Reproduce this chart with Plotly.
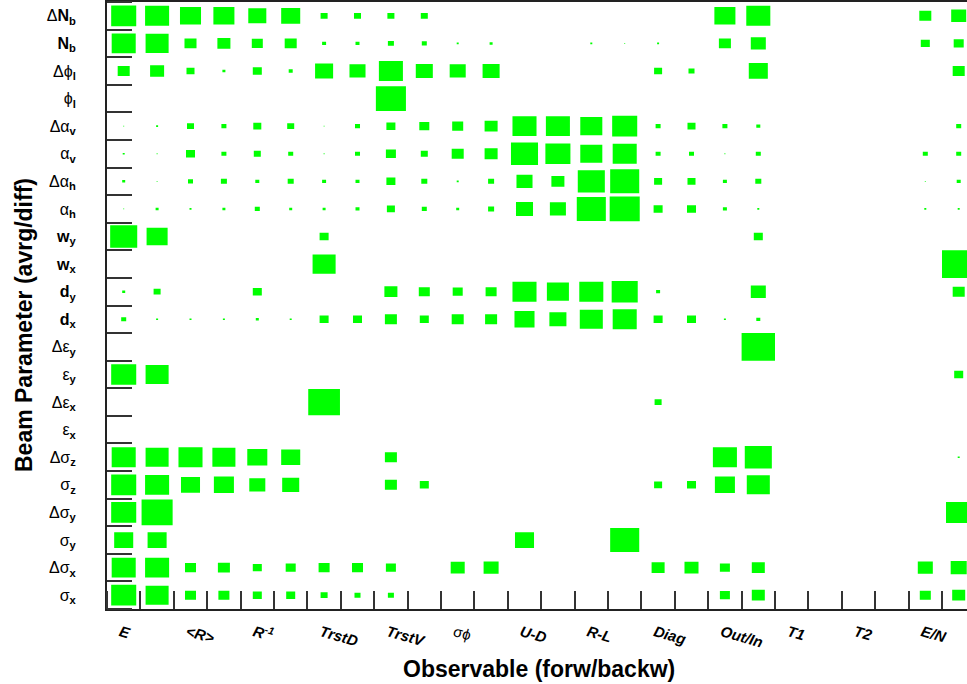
import plotly.graph_objects as go

# Beam parameters (rows, top to bottom)
param_labels = [
    "Δ<b>N<sub>b</sub></b>", "<b>N<sub>b</sub></b>",
    "Δϕ<sub><b>l</b></sub>", "ϕ<sub><b>l</b></sub>",
    "Δα<sub><b>v</b></sub>", "α<sub><b>v</b></sub>",
    "Δα<sub><b>h</b></sub>", "α<sub><b>h</b></sub>",
    "<b>w<sub>y</sub></b>", "<b>w<sub>x</sub></b>",
    "<b>d<sub>y</sub></b>", "<b>d<sub>x</sub></b>",
    "Δε<sub><b>y</b></sub>", "ε<sub><b>y</b></sub>",
    "Δε<sub><b>x</b></sub>", "ε<sub><b>x</b></sub>",
    "Δσ<sub><b>z</b></sub>", "σ<sub><b>z</b></sub>",
    "Δσ<sub><b>y</b></sub>", "σ<sub><b>y</b></sub>",
    "Δσ<sub><b>x</b></sub>", "σ<sub><b>x</b></sub>",
]

# Observables (each has a forward and backward column)
obs_labels = [
    "<b><i>E</i></b>", "<b><i>&lt;R&gt;</i></b>", "<b><i>R<sup>-1</sup></i></b>",
    "<b><i>TrstD</i></b>", "<b><i>TrstV</i></b>", "σϕ",
    "<b><i>U-D</i></b>", "<b><i>R-L</i></b>", "<b><i>Diag</i></b>",
    "<b><i>Out/In</i></b>", "<b><i>T1</i></b>", "<b><i>T2</i></b>", "<b><i>E/N</i></b>",
]

# Relative box sizes, 26 columns per row (E f/b, <R> f/b, ..., E/N f/b)
dNb = [.75, .72, .63, .63, .54, .57, .21, .21, .21, .21, 0, 0, 0, 0, 0, 0, 0, 0, .63, .72, 0, 0, 0, 0, .36, .45]
Nb = [.72, .69, .36, .39, .33, .36, .12, .12, .18, .15, .06, .09, 0, 0, .06, .03, .06, 0, .36, .45, 0, 0, 0, 0, .27, .30]
dphi = [.36, .42, .24, .09, .27, .12, .54, .48, .72, .51, .48, .51, 0, 0, 0, 0, .24, .18, 0, .57, 0, 0, 0, 0, 0, .36]
phi = [0, 0, 0, 0, 0, 0, 0, 0, .90, 0, 0, 0, 0, 0, 0, 0, 0, 0, 0, 0, 0, 0, 0, 0, 0, 0]
dav = [.03, .06, .21, .15, .24, .21, .03, .15, .27, .30, .33, .39, .72, .72, .66, .75, .15, .24, .15, .12, 0, 0, 0, 0, 0, .15]
av = [.06, .03, .27, .15, .21, .15, .03, .15, .30, .21, .36, .39, .81, .75, .66, .72, .15, .15, .03, .15, 0, 0, 0, 0, .15, .15]
dah = [.09, .03, .15, .18, .12, .18, .12, .12, .27, .18, .06, .18, .48, .39, .81, .87, .24, .24, .12, .18, 0, 0, 0, 0, .03, .12]
ah = [.03, .09, .06, .09, .15, .09, .09, .12, .24, .15, .09, .18, .51, .48, .87, .90, .27, .27, .12, .06, 0, 0, 0, 0, .06, .06]
wy = [.81, .63, 0, 0, 0, 0, .27, 0, 0, 0, 0, 0, 0, 0, 0, 0, 0, 0, 0, .27, 0, 0, 0, 0, 0, 0]
wx = [0, 0, 0, 0, 0, 0, .69, 0, 0, 0, 0, 0, 0, 0, 0, 0, 0, 0, 0, 0, 0, 0, 0, 0, 0, 1.0]
dy = [.09, .21, 0, 0, .27, 0, 0, 0, .39, .33, .30, .33, .72, .66, .72, .78, .12, 0, 0, .45, 0, 0, 0, 0, 0, .36]
dx = [.15, .06, .06, .06, .09, .06, .27, .27, .36, .27, .36, .36, .60, .51, .69, .72, .27, .27, .06, .12, 0, 0, 0, 0, 0, 0]
dey = [0, 0, 0, 0, 0, 0, 0, 0, 0, 0, 0, 0, 0, 0, 0, 0, 0, 0, 0, 1.0, 0, 0, 0, 0, 0, 0]
ey = [.75, .69, 0, 0, 0, 0, 0, 0, 0, 0, 0, 0, 0, 0, 0, 0, 0, 0, 0, 0, 0, 0, 0, 0, 0, .27]
dex = [0, 0, 0, 0, 0, 0, .95, 0, 0, 0, 0, 0, 0, 0, 0, 0, .21, 0, 0, 0, 0, 0, 0, 0, 0, 0]
ex = [0] * 26
dsz = [.72, .69, .72, .69, .60, .57, 0, 0, .36, 0, 0, 0, 0, 0, 0, 0, 0, 0, .72, .81, 0, 0, 0, 0, 0, .06]
sz = [.75, .72, .57, .60, .48, .51, 0, 0, .36, .27, 0, 0, 0, 0, 0, 0, .24, .27, .60, .69, 0, 0, 0, 0, 0, 0]
dsy = [.75, .93, 0, 0, 0, 0, 0, 0, 0, 0, 0, 0, 0, 0, 0, 0, 0, 0, 0, 0, 0, 0, 0, 0, 0, .76]
sy = [.57, .57, 0, 0, 0, 0, 0, 0, 0, 0, 0, 0, .57, 0, 0, .87, 0, 0, 0, 0, 0, 0, 0, 0, 0, 0]
dsx = [.72, .72, .33, .36, .27, .30, .33, .33, .30, 0, .42, .45, 0, 0, 0, 0, .39, .42, .30, .39, 0, 0, 0, 0, .45, .48]
sx = [.75, .69, .33, .33, .27, .27, .21, .18, .18, 0, 0, 0, 0, 0, 0, 0, 0, 0, .30, .39, 0, 0, 0, 0, .33, .39]

rows = [dNb, Nb, dphi, phi, dav, av, dah, ah, wy, wx, dy, dx,
        dey, ey, dex, ex, dsz, sz, dsy, sy, dsx, sx]

n_rows = len(rows)
n_cols = len(rows[0])

xs, ys = [], []
for j, row in enumerate(rows):
    for i, v in enumerate(row):
        if v <= 0:
            continue
        cx, cy, h = i + 0.5, j + 0.5, v / 2
        xs += [cx - h, cx + h, cx + h, cx - h, cx - h, None]
        ys += [cy - h, cy - h, cy + h, cy + h, cy - h, None]

fig = go.Figure()
fig.add_trace(go.Scatter(
    x=xs, y=ys, mode="lines", fill="toself", fillcolor="#00ff00",
    line=dict(width=0, color="#00ff00"), hoverinfo="skip", showlegend=False,
))

FONT = "Liberation Sans"
W, H = 967, 684
ML, MT, MB = 107, 2, 75
col_px = 33.4

fig.update_layout(
    width=W, height=H,
    margin=dict(l=ML, r=0, t=MT, b=MB, autoexpand=False),
    paper_bgcolor="white", plot_bgcolor="white",
    font=dict(family=FONT, color="black"),
    showlegend=False,
    xaxis=dict(
        range=[0, (W - ML) / col_px], automargin=False,
        showgrid=False, zeroline=False, fixedrange=True,
        showline=True, linewidth=2, linecolor="#222", mirror=True,
        tickmode="array",
        tickvals=[2 * k + 0.4 for k in range(len(obs_labels))],
        ticktext=obs_labels,
        ticks="", tickangle=16,
        tickfont=dict(family=FONT, size=15, color="black"),
        ticklabelstandoff=7,
        minor=dict(tickmode="array", tickvals=list(range(n_cols + 1)),
                   ticks="inside", ticklen=18, tickwidth=2, tickcolor="#333",
                   showgrid=False),
    ),
    yaxis=dict(
        range=[n_rows, 0], automargin=False,
        showgrid=False, zeroline=False, fixedrange=True,
        showline=True, linewidth=2, linecolor="#222", mirror=False,
        tickmode="array",
        tickvals=[j + 0.5 for j in range(n_rows)],
        ticktext=param_labels,
        ticks="",
        tickfont=dict(family=FONT, size=16, color="black"),
        ticklabelstandoff=26,
        minor=dict(tickmode="array", tickvals=list(range(n_rows + 1)),
                   ticks="inside", ticklen=25, tickwidth=2, tickcolor="#333",
                   showgrid=False),
    ),
    annotations=[
        dict(text="<b>Observable (forw/backw)</b>", xref="paper", yref="paper",
             x=(539 - ML) / (W - ML), y=-(669 - (H - MB)) / (H - MT - MB),
             xanchor="center", yanchor="middle", showarrow=False,
             font=dict(family=FONT, size=23, color="black")),
        dict(text="<b>Beam Parameter (avrg/diff)</b>", xref="paper", yref="paper",
             x=-(ML - 24) / (W - ML), y=1 - (325 - MT) / (H - MT - MB),
             xanchor="center", yanchor="middle", textangle=-90, showarrow=False,
             font=dict(family=FONT, size=23, color="black")),
    ],
)

fig.write_html(
    "out.html",
    config={"displayModeBar": False, "staticPlot": True},
    post_script="document.body.style.margin='0';document.body.style.overflow='hidden';",
)
